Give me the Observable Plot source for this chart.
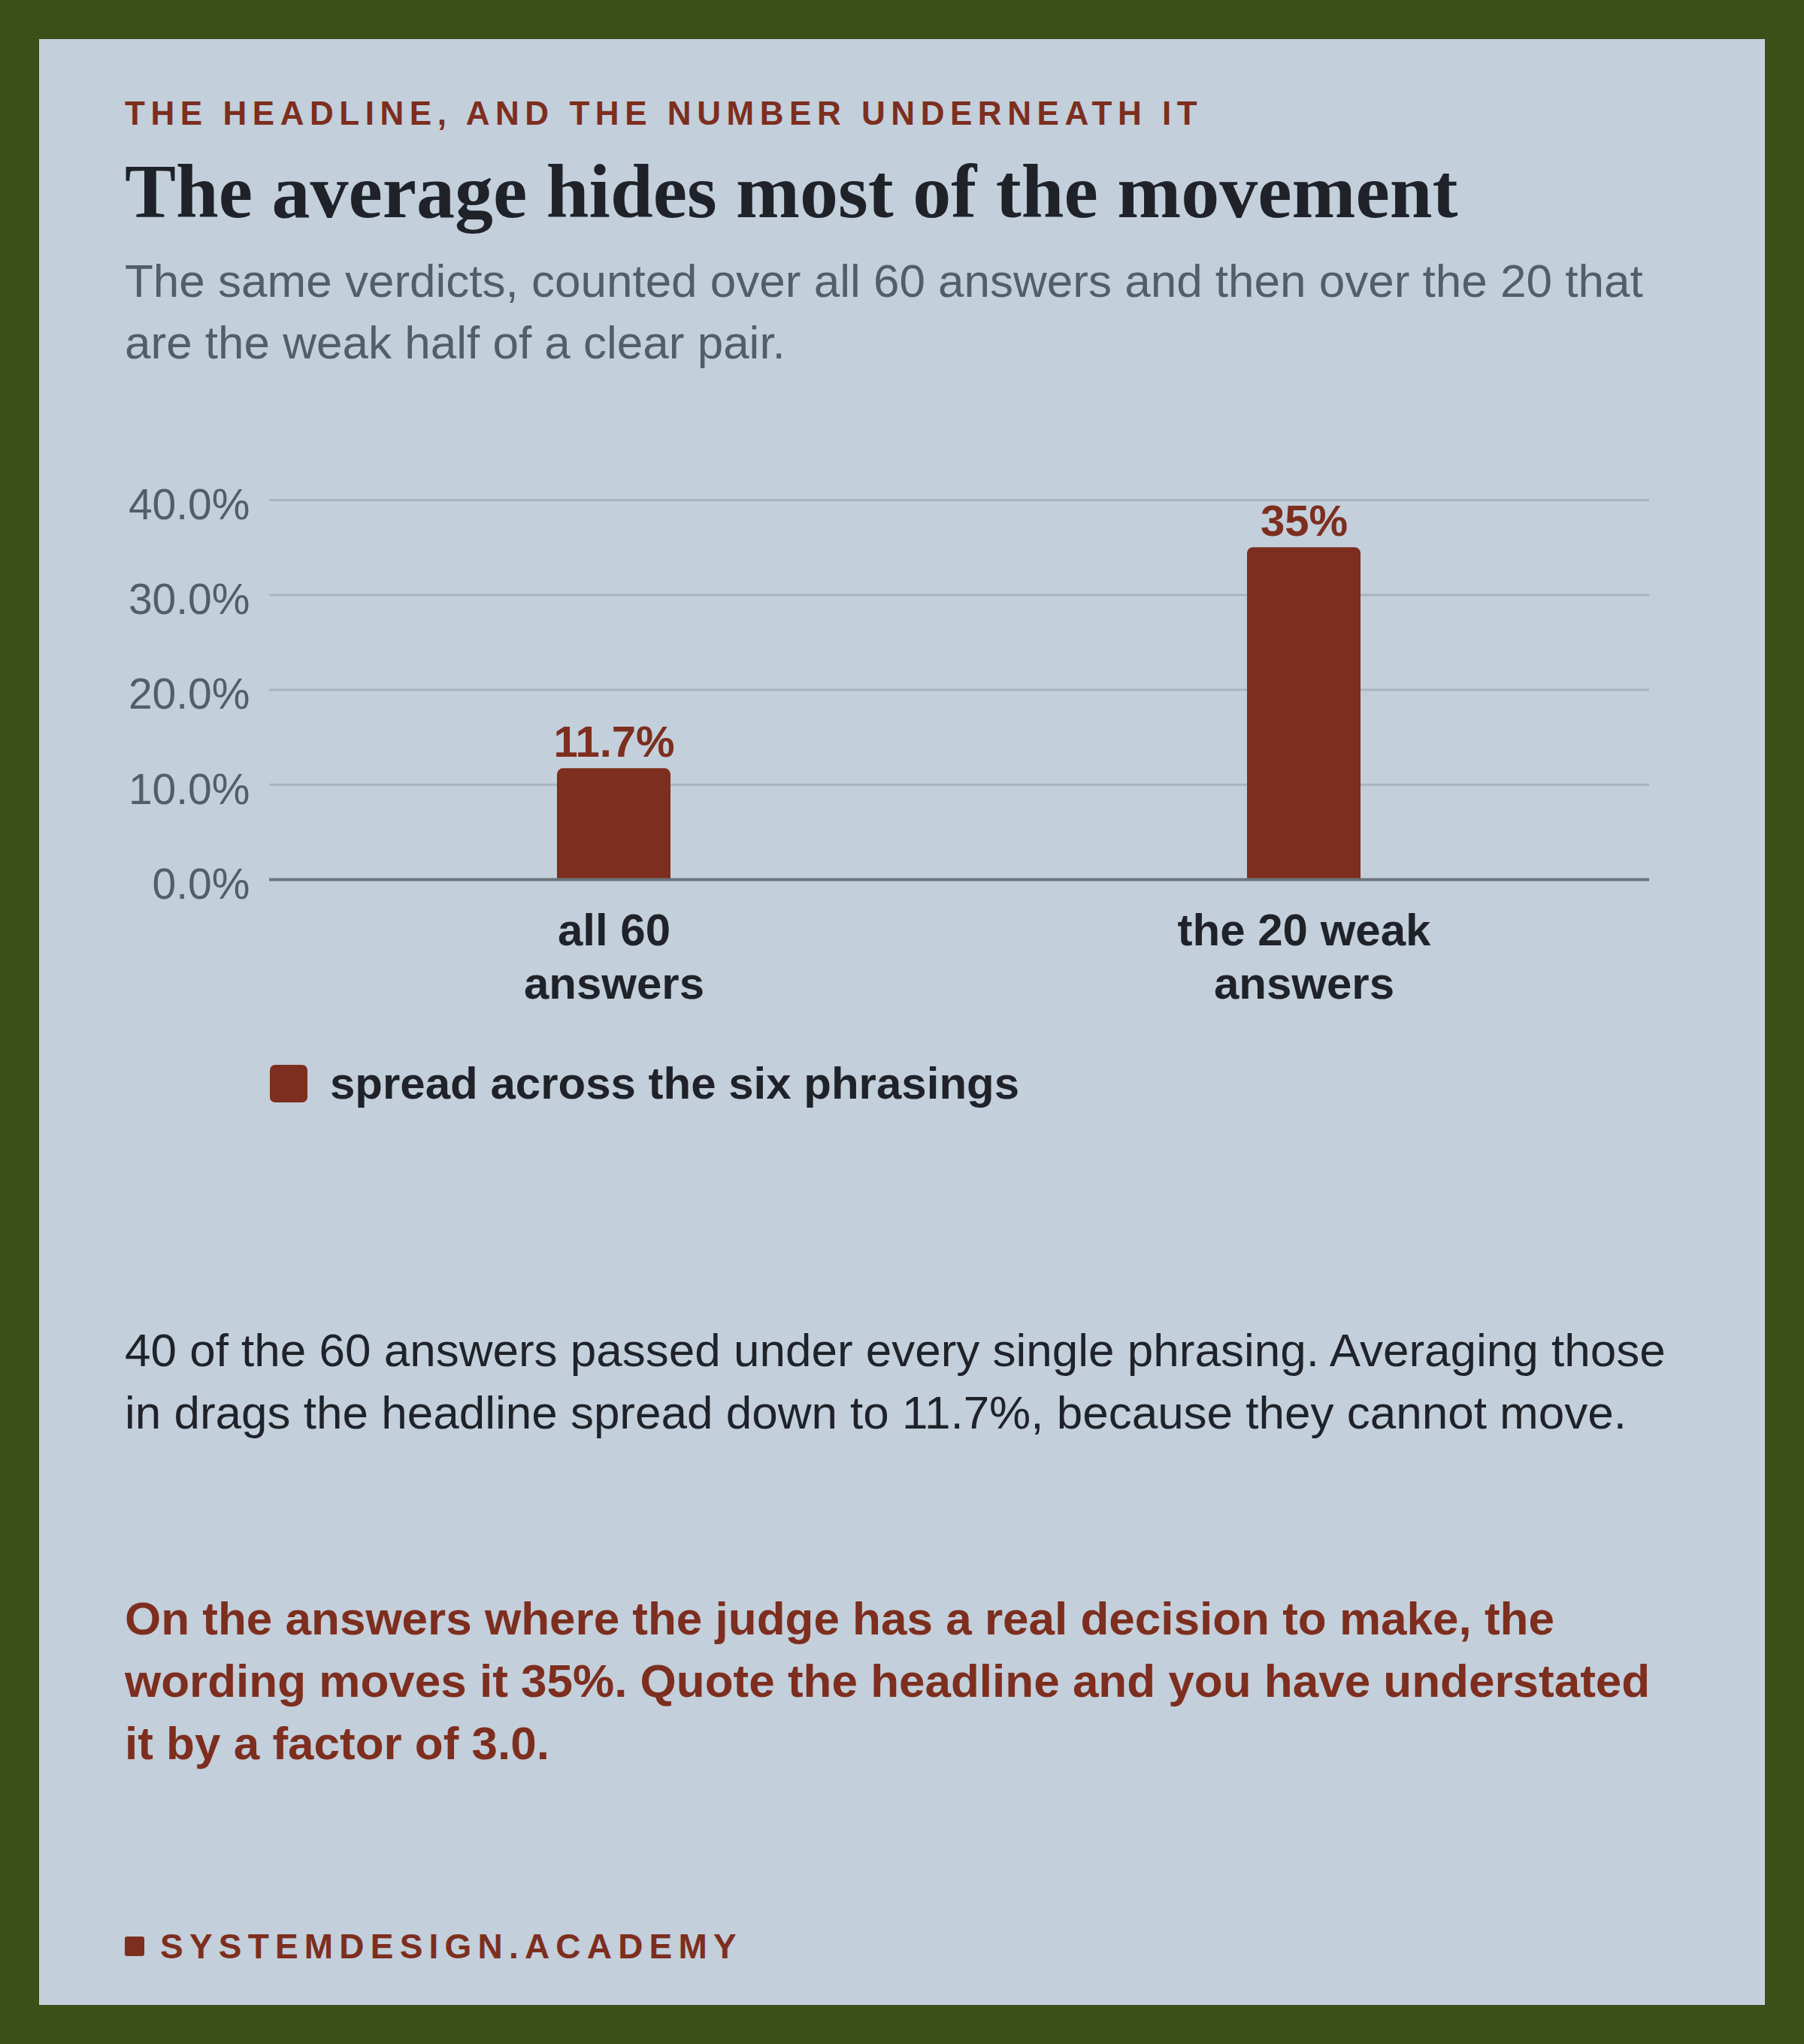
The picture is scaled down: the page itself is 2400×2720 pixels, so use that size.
<!DOCTYPE html>
<html><head><meta charset="utf-8">
<script src="https://cdn.jsdelivr.net/npm/d3@7"></script>
<script src="https://cdn.jsdelivr.net/npm/@observablehq/plot@0.6"></script>
<style>
html,body{margin:0;padding:0;}
body{width:2400px;height:2720px;background:#3d4f19;position:relative;overflow:hidden;font-family:"Liberation Sans",Arial,Helvetica,sans-serif;}
#card{position:absolute;left:52px;top:52px;width:2296px;height:2616px;background:#c3cfdb;}
.abs{position:absolute;white-space:nowrap;}
#eyebrow{left:166px;top:129px;font-size:44px;line-height:44px;font-weight:bold;letter-spacing:7.55px;color:#7d2e1e;}
#title{left:166px;top:204px;font-family:"Liberation Serif",serif;font-size:102px;line-height:102px;font-weight:bold;color:#1f2329;}
#subtitle{left:166px;top:333px;font-size:62px;line-height:82px;color:#525e6a;}
#chart{left:0;top:600px;}
#legend{left:359px;top:1412px;display:flex;align-items:center;height:60px;font-size:60px;line-height:60px;font-weight:bold;color:#1f2329;}
#legend .sw{width:50px;height:50px;border-radius:7px;background:#7d2e1e;margin-right:30px;}
#body{left:166px;top:1755px;font-size:62px;line-height:83px;color:#1f2329;}
#concl{left:166px;top:2112px;font-size:62px;line-height:83px;font-weight:bold;color:#7d2e1e;}
#footer{left:166px;top:2567px;display:flex;align-items:center;height:46px;font-size:46px;line-height:46px;font-weight:bold;letter-spacing:8.2px;color:#7d2e1e;}
#footer .sq{width:26px;height:26px;border-radius:3px;background:#7d2e1e;margin-right:21px;}
</style>
</head>
<body>
<div id="card"></div>
<div class="abs" id="eyebrow">THE HEADLINE, AND THE NUMBER UNDERNEATH IT</div>
<div class="abs" id="title">The average hides most of the movement</div>
<div class="abs" id="subtitle">The same verdicts, counted over all 60 answers and then over the 20 that<br>are the weak half of a clear pair.</div>
<div class="abs" id="chart"></div>
<div class="abs" id="legend"><div class="sw"></div><span id="legtext"></span></div>
<div class="abs" id="body">40 of the 60 answers passed under every single phrasing. Averaging those<br>in drags the headline spread down to 11.7%, because they cannot move.</div>
<div class="abs" id="concl">On the answers where the judge has a real decision to make, the<br>wording moves it 35%. Quote the headline and you have understated<br>it by a factor of 3.0.</div>
<div class="abs" id="footer"><div class="sq"></div><span>SYSTEMDESIGN.ACADEMY</span></div>
<script>
const categories = ["all 60 answers", "the 20 weak answers"];
const tickLabels = ["all 60\nanswers", "the 20 weak\nanswers"];
const spread = [11.7, 35];
const valueLabels = ["11.7%", "35%"];
const yTicks = [0, 10, 20, 30, 40];
const seriesName = "spread across the six phrasings";

const data = categories.map((c, i) => ({category: c, value: spread[i], label: valueLabels[i]}));

const chart = Plot.plot({
  width: 2400,
  height: 780,
  marginTop: 65,
  marginBottom: 210,
  marginLeft: 358,
  marginRight: 206,
  style: {background: "transparent", fontFamily: "'Liberation Sans', Arial, sans-serif", overflow: "visible"},
  x: {domain: categories, paddingInner: 0.835, paddingOuter: 0.4175, align: 0.5, label: null},
  y: {domain: [0, 40], label: null},
  marks: [
    Plot.gridY(yTicks, {stroke: "#a8b4c2", strokeOpacity: 1, strokeWidth: 3}),
    Plot.axisY(yTicks, {tickSize: 0, tickPadding: 26, fontSize: 57, fill: "#525e6a", dy: 7, label: null, tickFormat: d => d.toFixed(1) + "%"}),
    Plot.axisX({tickSize: 0, tickPadding: 37, fontSize: 60, fontWeight: "bold", fill: "#1f2329", lineHeight: 1.18, label: null, tickFormat: d => tickLabels[categories.indexOf(d)]}),
    Plot.barY(data, {x: "category", y: "value", fill: "#7d2e1e", rx: 8, insetBottom: -12, clip: true}),
    Plot.ruleY([0], {stroke: "#6c757d", strokeWidth: 4}),
    Plot.text(data, {x: "category", y: "value", text: "label", lineAnchor: "bottom", dy: -16, fontSize: 58, fontWeight: "bold", fill: "#7d2e1e"})
  ]
});
document.getElementById("chart").appendChild(chart);
document.getElementById("legtext").textContent = seriesName;
</script>
</body></html>
